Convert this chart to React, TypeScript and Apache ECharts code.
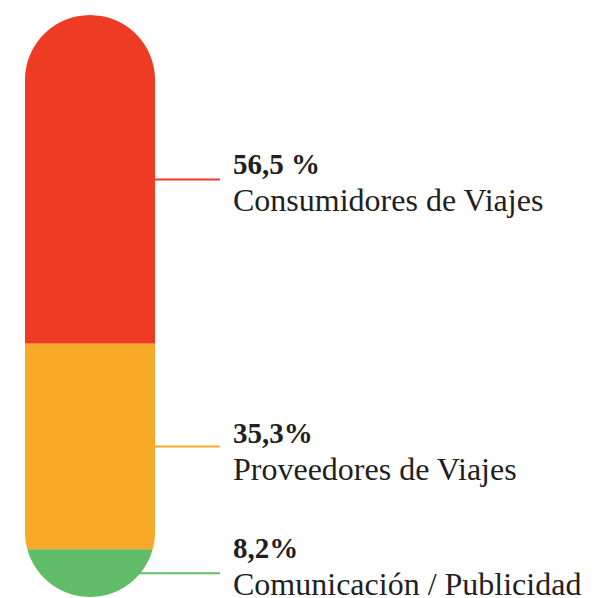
import React, { useEffect, useRef } from "react";
import * as echarts from "echarts";

const NAMES = ["Consumidores de Viajes", "Proveedores de Viajes", "Comunicación / Publicidad"];
const VALUES = [56.5, 35.3, 8.2];
const PERCENT_LABELS = ["56,5 %", "35,3%", "8,2%"];

const COLORS = ["#EE3B24", "#F9A928", "#62BD69"];
const TEXT_COLOR = "#231F20";
const LINE_END_X = 220;
const LABEL_X = 233;
const FONT = "'Liberation Serif', 'Times New Roman', serif";

export default function App() {
  const ref = useRef<HTMLDivElement>(null);

  useEffect(() => {
    if (!ref.current) return;
    const chart = echarts.init(ref.current, undefined, { renderer: "svg" });

    let acc = 0;
    const segs = VALUES.map((v, i) => {
      const s = acc;
      acc += v;
      return [s, acc, i];
    });
    const total = acc;

    const renderItem = (params: any, api: any) => {
      const start = api.value(0);
      const end = api.value(1);
      const idx = api.value(2);
      const pTop = api.coord([0, 0]);
      const pBot = api.coord([1, total]);
      const xl = pTop[0];
      const xr = pBot[0];
      const yPillTop = pTop[1];
      const yPillBot = pBot[1];
      const r = (xr - xl) / 2;
      const cx = (xl + xr) / 2;
      const y0 = api.coord([0, start])[1];
      const y1 = api.coord([0, end])[1];
      const hw = (y: number) => {
        if (y < yPillTop + r) {
          const dy = yPillTop + r - y;
          return Math.sqrt(Math.max(0, r * r - dy * dy));
        }
        if (y > yPillBot - r) {
          const dy = y - (yPillBot - r);
          return Math.sqrt(Math.max(0, r * r - dy * dy));
        }
        return r;
      };
      const ys: number[] = [];
      for (let y = y0; y < y1; y += 1) ys.push(y);
      ys.push(y1);
      const right = ys.map((y) => [cx + hw(y), y]);
      const left = ys.slice().reverse().map((y) => [cx - hw(y), y]);
      const midY = (y0 + y1) / 2;
      return {
        type: "group",
        children: [
          {
            type: "polygon",
            shape: { points: right.concat(left) },
            style: { fill: COLORS[idx] },
          },
          {
            type: "line",
            shape: { x1: cx + hw(midY) - 1, y1: midY, x2: LINE_END_X, y2: midY },
            style: { stroke: COLORS[idx], lineWidth: 2 },
          },
        ],
      };
    };

    const labelTops = [164, 433, 548];
    const graphics: any[] = [];
    PERCENT_LABELS.forEach((p, i) => {
      graphics.push({
        type: "text",
        x: LABEL_X,
        y: labelTops[i],
        style: {
          text: p,
          font: `bold 29px ${FONT}`,
          fill: TEXT_COLOR,
          verticalAlign: "middle",
          align: "left",
        },
      });
      graphics.push({
        type: "text",
        x: LABEL_X,
        y: labelTops[i] + 36,
        style: {
          text: NAMES[i],
          font: `32px ${FONT}`,
          fill: TEXT_COLOR,
          verticalAlign: "middle",
          align: "left",
        },
      });
    });

    chart.setOption({
      animation: false,
      backgroundColor: "#ffffff",
      grid: { left: 25, top: 15, width: 130, height: 582 },
      xAxis: { type: "value", min: 0, max: 1, show: false },
      yAxis: { type: "value", min: 0, max: total, inverse: true, show: false },
      series: [
        {
          type: "custom",
          renderItem,
          data: segs,
          clip: false,
        },
      ],
      graphic: graphics,
    });

    return () => chart.dispose();
  }, []);

  return (
    <div
      ref={ref}
      style={{ position: "absolute", left: 0, top: 0, width: 598, height: 598 }}
    />
  );
}
